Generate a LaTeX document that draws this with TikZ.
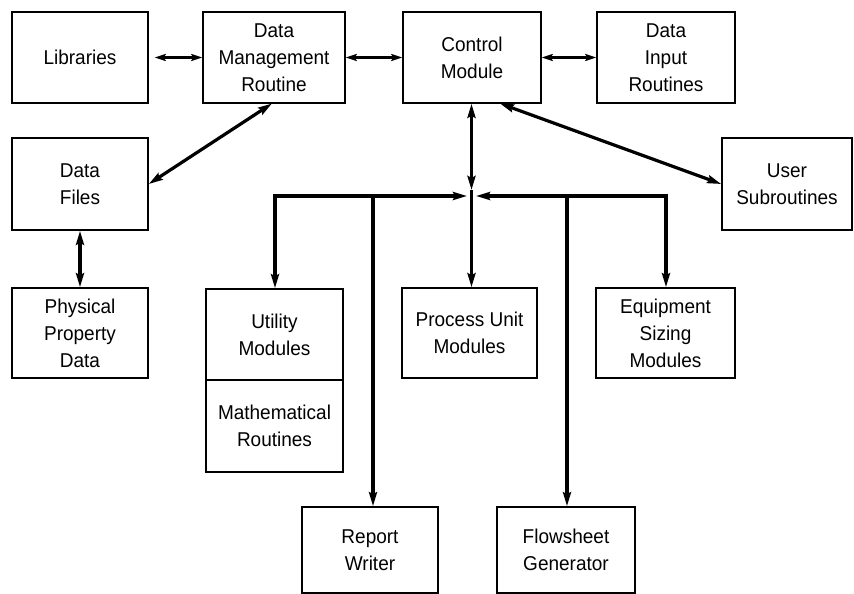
\documentclass[tikz,border=0pt]{standalone}
\usepackage{fontspec}
\setmainfont{Liberation Sans}[FakeStretch=0.95]
\usetikzlibrary{arrows.meta}
\begin{document}
\begin{tikzpicture}[x=1pt,y=-1pt,
  box/.style={draw, line width=1.6pt, align=center, inner sep=0pt,
    font=\fontsize{20}{27}\selectfont},
  arr/.style={line width=3.2pt, line cap=butt, line join=miter,
    {Stealth[length=14pt,width=8pt,inset=2pt]}-{Stealth[length=14pt,width=8pt,inset=2pt]}},
  arrsmall/.style={line width=2.6pt,
    {Stealth[length=11pt,width=7pt,inset=2pt]}-{Stealth[length=11pt,width=7pt,inset=2pt]}},
  arrone/.style={line width=3.2pt, line join=miter,
    -{Stealth[length=14pt,width=8pt,inset=2pt]}}
]
\useasboundingbox (0,0) rectangle (854,594);
% top row
\node[box, minimum width=136pt, minimum height=91pt] (lib) at (80,57.5) {Libraries};
\node[box, minimum width=142pt, minimum height=91pt] (dmr) at (274,57.5) {Data\\Management\\Routine};
\node[box, minimum width=138pt, minimum height=91pt] (ctl) at (472,57.5) {Control\\Module};
\node[box, minimum width=138pt, minimum height=91pt] (dir) at (666,57.5) {Data\\Input\\Routines};
% left column
\node[box, minimum width=136pt, minimum height=92pt] (dfiles) at (80,184) {Data\\Files};
\node[box, minimum width=136pt, minimum height=90pt] (phys) at (80,333) {Physical\\Property\\Data};
% right
\node[box, minimum width=130pt, minimum height=92pt] (usr) at (787,184) {User\\Subroutines};
% middle row
\node[box, minimum width=137pt, minimum height=91pt] (util) at (274.5,334.5) {Utility\\Modules};
\node[box, minimum width=137pt, minimum height=92pt] (math) at (274.5,426) {Mathematical\\Routines};
\node[box, minimum width=135pt, minimum height=90pt] (proc) at (469.5,333) {Process Unit\\Modules};
\node[box, minimum width=139pt, minimum height=90pt] (equip) at (665.5,333) {Equipment\\Sizing\\Modules};
% bottom row
\node[box, minimum width=136pt, minimum height=86pt] (rep) at (370,550) {Report\\Writer};
\node[box, minimum width=138pt, minimum height=86pt] (flow) at (566,550) {Flowsheet\\Generator};
% bus coordinates
\coordinate (jn) at (471.5,196);
\coordinate (jtop) at (471.5,190);
\coordinate (jl) at (467,196);
\coordinate (jr) at (476,196);
\coordinate (bl) at (275,196);
\coordinate (br) at (666,196);
\coordinate (b1) at (373,196);
\coordinate (b2) at (567,196);
\coordinate (dmrb) at (272,103.5);
\coordinate (ctlb) at (500,103.5);
% top connectors
\draw[arrsmall, shorten <=6pt] (lib.east) -- (dmr.west);
\draw[arrsmall] (dmr.east) -- (ctl.west);
\draw[arrsmall] (ctl.east) -- (dir.west);
\draw[arr] (dfiles.east) -- (dmrb);
\draw[arr] (dfiles.south) -- (phys.north);
\draw[arr] (ctlb) -- (usr.west);
% bus
\draw[arr, line width=3.6pt] (ctl.south -| jtop) -- (jtop);
\draw[arr] (jl) -- (bl) -- (bl |- util.north);
\draw[arr] (jr) -- (br) -- (br |- equip.north);
\draw[arrone, line width=3.6pt] (jtop) -- (jn |- proc.north);
\draw[arrone] (b1) -- (b1 |- rep.north);
\draw[arrone] (b2) -- (b2 |- flow.north);
\end{tikzpicture}
\end{document}
